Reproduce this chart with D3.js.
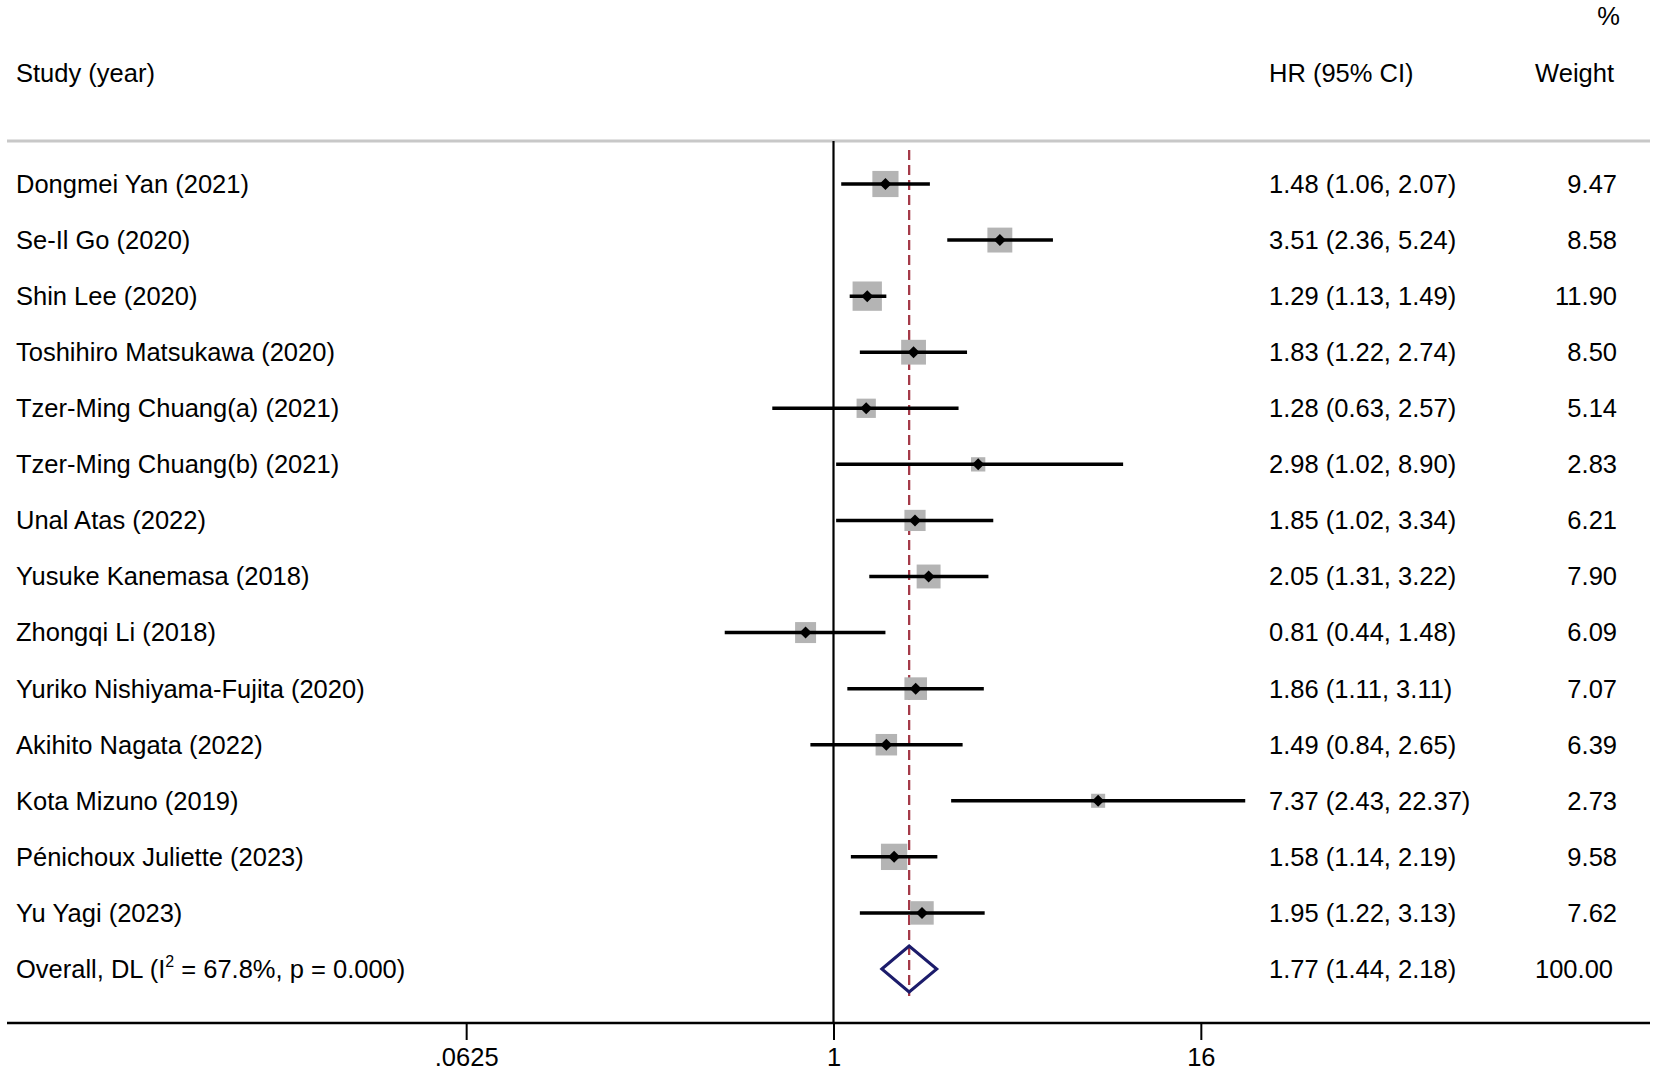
<!DOCTYPE html>
<html>

<head>
    <title>Forest plot</title>
    <script src="https://d3js.org/d3.v7.min.js"></script>
    <style>
        html,
        body {
            margin: 0;
            padding: 0;
            width: 100%;
            height: 100%;
            overflow: hidden;
            background: #fff;
            font-family: "Liberation Sans", Arial, sans-serif;
        }

        #chart text {
            font-size: 25.5px;
            fill: #000;
        }
    </style>
</head>

<body>
    <svg id="chart"></svg>

    <script>
        // Datos del gráfico
        const studies = [
            "Dongmei Yan (2021)", "Se-Il Go (2020)", "Shin Lee (2020)",
            "Toshihiro Matsukawa (2020)", "Tzer-Ming Chuang(a) (2021)",
            "Tzer-Ming Chuang(b) (2021)", "Unal Atas (2022)", "Yusuke Kanemasa (2018)",
            "Zhongqi Li (2018)", "Yuriko Nishiyama-Fujita (2020)", "Akihito Nagata (2022)",
            "Kota Mizuno (2019)", "Pénichoux Juliette (2023)", "Yu Yagi (2023)"
        ];
        const hr = [1.48, 3.51, 1.29, 1.83, 1.28, 2.98, 1.85, 2.05, 0.81, 1.86, 1.49, 7.37, 1.58, 1.95];
        const lower = [1.06, 2.36, 1.13, 1.22, 0.63, 1.02, 1.02, 1.31, 0.44, 1.11, 0.84, 2.43, 1.14, 1.22];
        const upper = [2.07, 5.24, 1.49, 2.74, 2.57, 8.90, 3.34, 3.22, 1.48, 3.11, 2.65, 22.37, 2.19, 3.13];
        const weights = [9.47, 8.58, 11.90, 8.50, 5.14, 2.83, 6.21, 7.90, 6.09, 7.07, 6.39, 2.73, 9.58, 7.62];

        const overall = { hr: 1.77, lower: 1.44, upper: 2.18, weight: 100.00 };
        const tickValues = [0.0625, 1, 16];
        const tickLabels = [".0625", "1", "16"];

        const width = 1654;
        const height = 1073;

        const svg = d3.select("#chart")
            .attr("width", width)
            .attr("height", height);

        // Escalas
        const x = d3.scaleLog().base(2)
            .domain([Math.pow(2, -9), Math.pow(2, 9)])
            .range([7, 1660]);

        const rows = studies.concat(["overall"]);
        const y = d3.scalePoint()
            .domain(d3.range(rows.length))
            .range([184, 969]);

        const side = d3.scaleSqrt().domain([0, 1]).range([0, 8.5]);

        const fmt = d3.format(".2f");

        // Encabezados
        svg.append("text").attr("x", 16).attr("y", 73).attr("dy", "0.35em").text("Study (year)");
        svg.append("text").attr("x", 1269).attr("y", 73).attr("dy", "0.35em").text("HR (95% CI)");
        svg.append("text").attr("x", 1614).attr("y", 73).attr("dy", "0.35em")
            .attr("text-anchor", "end").text("Weight");
        svg.append("text").attr("x", 1620).attr("y", 16).attr("dy", "0.35em")
            .attr("text-anchor", "end").text("%");

        // Línea gris del encabezado
        svg.append("line")
            .attr("x1", 7).attr("x2", 1650)
            .attr("y1", 141).attr("y2", 141)
            .attr("stroke", "#c8c8c8").attr("stroke-width", 3);

        // Línea de no efecto
        svg.append("line")
            .attr("x1", x(1)).attr("x2", x(1))
            .attr("y1", 141).attr("y2", 1023)
            .attr("stroke", "#000").attr("stroke-width", 2.2);

        // Línea del efecto global
        svg.append("line")
            .attr("x1", x(overall.hr)).attr("x2", x(overall.hr))
            .attr("y1", 150).attr("y2", 996)
            .attr("stroke", "#a53a48").attr("stroke-width", 2.3)
            .attr("stroke-dasharray", "10,5");

        const idx = d3.range(studies.length);

        // Cuadrados de peso
        svg.append("g").selectAll("rect")
            .data(idx)
            .join("rect")
            .attr("x", i => x(hr[i]) - side(weights[i]) / 2)
            .attr("y", i => y(i) - side(weights[i]) / 2)
            .attr("width", i => side(weights[i]))
            .attr("height", i => side(weights[i]))
            .attr("fill", "#b4b4b4");

        // Intervalos de confianza
        svg.append("g").selectAll("line")
            .data(idx)
            .join("line")
            .attr("x1", i => x(lower[i]))
            .attr("x2", i => x(upper[i]))
            .attr("y1", i => y(i))
            .attr("y2", i => y(i))
            .attr("stroke", "#000").attr("stroke-width", 3.5);

        // Estimaciones puntuales
        svg.append("g").selectAll("path")
            .data(idx)
            .join("path")
            .attr("d", i => {
                const cx = x(hr[i]), cy = y(i), r = 6;
                return `M${cx - r},${cy}L${cx},${cy - r}L${cx + r},${cy}L${cx},${cy + r}Z`;
            })
            .attr("fill", "#000");

        // Diamante global
        const oy = y(studies.length);
        svg.append("path")
            .attr("d", `M${x(overall.lower)},${oy}L${x(overall.hr)},${oy - 23}L${x(overall.upper)},${oy}L${x(overall.hr)},${oy + 23}Z`)
            .attr("fill", "none")
            .attr("stroke", "#1c1c6b")
            .attr("stroke-width", 3);

        // Etiquetas de estudios
        svg.append("g").selectAll("text")
            .data(idx)
            .join("text")
            .attr("x", 16)
            .attr("y", i => y(i))
            .attr("dy", "0.35em")
            .text(i => studies[i]);

        const ovLabel = svg.append("text")
            .attr("x", 16).attr("y", oy + 9);
        ovLabel.append("tspan").text("Overall, DL (I");
        ovLabel.append("tspan").attr("dy", -11).style("font-size", "16px").text("2");
        ovLabel.append("tspan").attr("dy", 11).text(" = 67.8%, p = 0.000)");

        // Columna HR (IC 95%)
        svg.append("g").selectAll("text")
            .data(idx)
            .join("text")
            .attr("x", 1269)
            .attr("y", i => y(i))
            .attr("dy", "0.35em")
            .text(i => `${fmt(hr[i])} (${fmt(lower[i])}, ${fmt(upper[i])})`);

        svg.append("text")
            .attr("x", 1269).attr("y", oy).attr("dy", "0.35em")
            .text(`${fmt(overall.hr)} (${fmt(overall.lower)}, ${fmt(overall.upper)})`);

        // Columna de peso
        svg.append("g").selectAll("text")
            .data(idx)
            .join("text")
            .attr("x", 1617)
            .attr("y", i => y(i))
            .attr("dy", "0.35em")
            .attr("text-anchor", "end")
            .text(i => fmt(weights[i]));

        svg.append("text")
            .attr("x", 1613).attr("y", oy).attr("dy", "0.35em")
            .attr("text-anchor", "end")
            .text(fmt(overall.weight));

        // Eje X
        const axis = d3.axisBottom(x)
            .tickValues(tickValues)
            .tickFormat((d, i) => tickLabels[i])
            .tickSize(17)
            .tickPadding(8);

        const gx = svg.append("g")
            .attr("transform", "translate(0,1023)")
            .call(axis);

        gx.select(".domain")
            .attr("d", "M7,0H1650")
            .attr("stroke", "#000")
            .attr("stroke-width", 2.7);
        gx.selectAll(".tick line").attr("stroke", "#000").attr("stroke-width", 2);
        gx.selectAll(".tick text")
            .attr("fill", "#000")
            .style("font-size", "25.5px")
            .style("font-family", "'Liberation Sans', Arial, sans-serif");
    </script>
</body>

</html>
